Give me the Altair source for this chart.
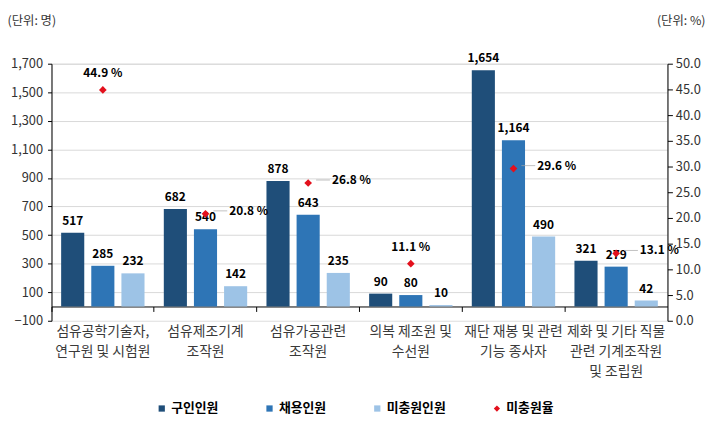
import altair as alt
import pandas as pd

categories = [
    "섬유공학기술자,\n연구원 및 시험원",
    "섬유제조기계\n조작원",
    "섬유가공관련\n조작원",
    "의복 제조원 및\n수선원",
    "재단 재봉 및 관련\n기능 종사자",
    "제화 및 기타 직물\n관련 기계조작원\n및 조립원",
]
series_bar = ["구인인원", "채용인원", "미충원인원"]
series_rate = "미충원율"
offers = [517, 682, 878, 90, 1654, 321]
hires = [285, 540, 643, 80, 1164, 279]
unfilled = [232, 142, 235, 10, 490, 42]
rates = [44.9, 20.8, 26.8, 11.1, 29.6, 13.1]
rate_label_above = [True, False, False, True, False, False]
left_ticks = list(range(-100, 1701, 200))
right_ticks = [x * 5 for x in range(11)]

FONT = "Noto Sans CJK KR"
W, H = 623, 260
colors = ["#1F4E79", "#2E75B6", "#9DC3E6", "#E3101C"]
all_series = series_bar + [series_rate]

rows = []
for i, c in enumerate(categories):
    for s, vals in zip(series_bar, [offers, hires, unfilled]):
        rows.append({"cat": c, "series": s, "value": vals[i]})
bar_df = pd.DataFrame(rows)
rate_df = pd.DataFrame({
    "cat": categories,
    "series": series_rate,
    "rate": rates,
    "above": rate_label_above,
})

x_enc = alt.X(
    "cat:N",
    sort=categories,
    scale=alt.Scale(domain=categories, paddingInner=0, paddingOuter=0),
    axis=alt.Axis(
        title=None, labelAngle=0, offset=-H * 100 / 1800, bandPosition=0,
        tickSize=5, labelPadding=13, labelBaseline="top",
        labelLineHeight=20.5, labelFontSize=14, labelColor="#3a3a3a", labelFont=FONT,
        labelExpr="split(datum.label, '\\n')", domainColor="#000", tickColor="#000",
        grid=False, labelLimit=200,
    ),
)
color_enc = alt.Color(
    "series:N",
    scale=alt.Scale(domain=all_series, range=colors),
    legend=alt.Legend(
        title=None, orient="none", direction="horizontal", legendX=105, legendY=342,
        labelFont=FONT, labelFontSize=13, labelFontWeight="bold", labelColor="#000",
        symbolSize=40, columnPadding=45, labelOffset=3,
    ),
)
y_left = alt.Y(
    "value:Q",
    scale=alt.Scale(domain=[-100, 1700], nice=False, zero=False),
    axis=alt.Axis(
        title="(단위: 명)", titleAngle=0, titleAlign="left", titleBaseline="middle",
        titleX=-45, titleY=-44, titleFont=FONT, titleFontSize=12.5, titleFontWeight="normal",
        titleColor="#333",
        values=left_ticks, format=",.0f", labelFont=FONT, labelFontSize=13, labelColor="#333",
        labelPadding=5, domainColor="#000", tickColor="#000", tickSize=4,
        gridColor={"condition": {"test": "datum.value == -100", "value": "transparent"}, "value": "#d9d9d9"},
    ),
)
xoff = alt.XOffset(
    "series:N", sort=series_bar,
    scale=alt.Scale(domain=series_bar, paddingInner=0.233, paddingOuter=0.32),
)

bars = alt.Chart(bar_df).mark_bar().encode(x=x_enc, y=y_left, xOffset=xoff, color=color_enc)
bar_text = alt.Chart(bar_df).mark_text(
    baseline="bottom", dy=-5, font=FONT, fontSize=12, fontWeight="bold", color="#000"
).encode(x=x_enc, y=y_left, xOffset=xoff, text=alt.Text("value:Q", format=",.0f"))
left = alt.layer(bars, bar_text)

y_right = alt.Y(
    "rate:Q",
    scale=alt.Scale(domain=[0, 50], nice=False),
    axis=alt.Axis(
        orient="right", title="(단위: %)", titleAngle=0, titleAlign="right",
        titleBaseline="middle", titleX=38, titleY=-44, titleFont=FONT, titleFontSize=12.5,
        titleFontWeight="normal", titleColor="#333",
        values=right_ticks, format=".1f", labelFont=FONT, labelFontSize=13,
        labelPadding=3, labelColor="#333", domainColor="#000", tickColor="#000",
        tickSize=5, grid=False,
    ),
)
shape_enc = alt.Shape(
    "series:N",
    scale=alt.Scale(domain=all_series, range=["square", "square", "square", "diamond"]),
    legend=None,
)
points = alt.Chart(rate_df).mark_point(filled=True, size=60, opacity=1).encode(
    x=alt.X("cat:N", sort=categories), y=y_right, color=color_enc, shape=shape_enc
)
leaders = alt.Chart(rate_df).transform_filter("!datum.above").mark_tick(
    color="#a6a6a6", thickness=1, size=14, xOffset=15, yOffset=-3
).encode(x=alt.X("cat:N", sort=categories), y=y_right)
lbl_above = alt.Chart(rate_df).transform_filter("datum.above").transform_calculate(
    label="format(datum.rate, '.1f') + ' %'"
).mark_text(
    dy=-17, font=FONT, fontSize=12, fontWeight="bold", color="#000"
).encode(x=alt.X("cat:N", sort=categories), y=y_right, text="label:N")
lbl_right = alt.Chart(rate_df).transform_filter("!datum.above").transform_calculate(
    label="format(datum.rate, '.1f') + ' %'"
).mark_text(
    align="left", dx=24, dy=-3, font=FONT, fontSize=12, fontWeight="bold", color="#000"
).encode(x=alt.X("cat:N", sort=categories), y=y_right, text="label:N")
right = alt.layer(leaders, points, lbl_above, lbl_right)

chart = alt.layer(left, right).resolve_scale(y="independent").properties(
    width=W, height=H,
    autosize=alt.AutoSizeParams(type="none"),
    padding={"left": 44, "top": 54, "right": 41, "bottom": 96},
).configure_view(stroke=None).configure(background="white")

chart.save("out.html", embed_options={"renderer": "svg", "actions": False})
